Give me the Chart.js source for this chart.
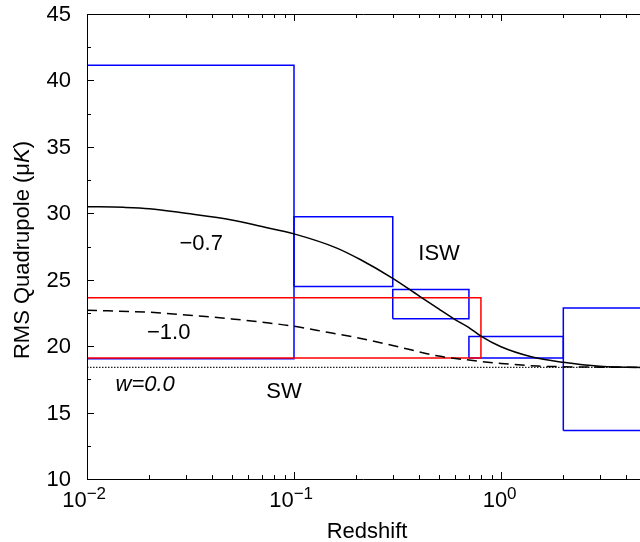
<!DOCTYPE html>
<html>
<head>
<meta charset="utf-8">
<script src="https://cdn.jsdelivr.net/npm/chart.js@4/dist/chart.umd.min.js"></script>
<style>
  html, body { margin: 0; padding: 0; background: #fff; overflow: hidden; }
</style>
</head>
<body>
<canvas id="chart" width="640" height="542"></canvas>
<script>
// axis ranges
const zMin = 0.01;
const zMax = 4.694;
const qMin = 10;
const qMax = 45;
const yTicks = [10, 15, 20, 25, 30, 35, 40, 45];

// blue error boxes (redshift bins)
const boxZlo = [0.01, 0.1, 0.3, 0.7, 2];
const boxZhi = [0.1, 0.3, 0.7, 2, 10];
const boxQlo = [19.06, 24.48, 22.07, 19.1, 13.65];
const boxQhi = [41.14, 29.73, 24.26, 20.72, 22.88];

// red box
const redZ = [0.01, 0.8];
const redQ = [19.1, 23.65];

// w = -0.7 (solid)
const zSolid = [0.01, 0.015, 0.02, 0.03, 0.05, 0.07, 0.1, 0.16, 0.21, 0.3, 0.4, 0.5, 0.6, 0.7, 0.8, 1.0, 1.4, 2.0, 3.0, 4.0, 4.7];
const qSolid = [30.5, 30.45, 30.35, 30.0, 29.5, 29.0, 28.45, 27.4, 26.5, 25.1, 23.8, 22.8, 22.0, 21.4, 20.75, 19.95, 19.2, 18.78, 18.48, 18.42, 18.4];

// w = -1.0 (dashed)
const zDash = [0.01, 0.02, 0.03, 0.05, 0.07, 0.1, 0.15, 0.2, 0.3, 0.5, 0.7, 1.0, 1.5, 2.0, 3.0, 4.7];
const qDash = [22.7, 22.55, 22.35, 22.05, 21.8, 21.5, 21.0, 20.65, 20.05, 19.25, 18.95, 18.7, 18.5, 18.45, 18.42, 18.4];

// w = 0.0 (Sachs-Wolfe only)
const swLevel = 18.4;

// x tick decades and labels
const xMajor = [0.01, 0.1, 1];
const xExp = ['\u22122', '\u22121', '0'];

// text labels placed in data units
const notes = [
  { text: '\u22120.7', z: 0.0356, q: 27.7, italic: false },
  { text: 'ISW', z: 0.502, q: 26.94, italic: false },
  { text: '\u22121.0', z: 0.0248, q: 21.0, italic: false },
  { text: 'w=0.0', z: 0.0191, q: 17.05, italic: true },
  { text: 'SW', z: 0.0894, q: 16.56, italic: false }
];

const FONT = '"Liberation Sans", Arial, Helvetica, sans-serif';
const FS = 22;

function boxPoints(z0, z1, q0, q1) {
  return [{x: z0, y: q0}, {x: z1, y: q0}, {x: z1, y: q1}, {x: z0, y: q1}, {x: z0, y: q0}];
}

const datasets = [];
datasets.push({
  data: zSolid.map((z, i) => ({x: z, y: qSolid[i]})),
  borderColor: '#000', borderWidth: 1.5, cubicInterpolationMode: 'monotone'
});
datasets.push({
  data: zDash.map((z, i) => ({x: z, y: qDash[i]})),
  borderColor: '#000', borderWidth: 1.5, borderDash: [10, 6], cubicInterpolationMode: 'monotone'
});
datasets.push({
  data: [{x: zMin, y: swLevel}, {x: 10, y: swLevel}],
  borderColor: '#222', borderWidth: 1.2, borderDash: [1.5, 1.5]
});
datasets.push({
  data: boxPoints(redZ[0], redZ[1], redQ[0], redQ[1]),
  borderColor: '#ff0000', borderWidth: 1.5
});
for (let i = 0; i < boxZlo.length; i++) {
  datasets.push({
    data: boxPoints(boxZlo[i], boxZhi[i], boxQlo[i], boxQhi[i]),
    borderColor: '#0000ff', borderWidth: 1.5
  });
}
datasets.forEach(d => {
  d.showLine = true;
  d.pointRadius = 0;
  d.fill = false;
});

const framePlugin = {
  id: 'frame',
  afterDraw(chart) {
    const ctx = chart.ctx;
    const a = chart.chartArea;
    const xs = chart.scales.x;
    const ys = chart.scales.y;
    ctx.save();
    ctx.strokeStyle = '#000';
    ctx.lineWidth = 1;
    ctx.beginPath();
    ctx.moveTo(a.left + 0.5, a.top + 0.5);
    ctx.lineTo(a.right, a.top + 0.5);
    ctx.moveTo(a.left + 0.5, a.top);
    ctx.lineTo(a.left + 0.5, a.bottom + 0.5);
    ctx.lineTo(a.right, a.bottom + 0.5);
    // x ticks (bottom and top, inward)
    for (const d of xMajor) {
      for (let m = 1; m <= 9; m++) {
        const v = m * d;
        if (v > zMax) break;
        const px = Math.round(xs.getPixelForValue(v)) + 0.5;
        const len = m === 1 ? 7 : 4;
        ctx.moveTo(px, a.bottom);
        ctx.lineTo(px, a.bottom - len);
        ctx.moveTo(px, a.top);
        ctx.lineTo(px, a.top + len);
      }
    }
    // y ticks (left, inward)
    for (let v = qMin; v <= qMax; v += 2.5) {
      const py = Math.round(ys.getPixelForValue(v)) + 0.5;
      const len = v % 5 === 0 ? 7 : 4;
      ctx.moveTo(a.left, py);
      ctx.lineTo(a.left + len, py);
    }
    ctx.stroke();

    ctx.fillStyle = '#000';

    // y tick labels
    ctx.font = FS + 'px ' + FONT;
    ctx.textAlign = 'right';
    ctx.textBaseline = 'middle';
    yTicks.forEach(v => {
      ctx.fillText(String(v), a.left - 16, ys.getPixelForValue(v) + 1);
    });

    // x tick labels 10^n
    ctx.textBaseline = 'alphabetic';
    ctx.textAlign = 'left';
    xMajor.forEach((v, i) => {
      const px = xs.getPixelForValue(v);
      ctx.font = FS + 'px ' + FONT;
      const w10 = ctx.measureText('10').width;
      const wExpFull = ctx.measureText(xExp[i]).width;
      const left = px - (w10 + wExpFull) / 2;
      ctx.fillText('10', left, 507);
      ctx.font = '17px ' + FONT;
      ctx.fillText(xExp[i], left + w10, 499);
    });

    // x title
    ctx.font = FS + 'px ' + FONT;
    ctx.textAlign = 'center';
    ctx.fillText('Redshift', 367, 538);

    // y title, rotated, with italic K
    ctx.save();
    ctx.translate(29, 250);
    ctx.rotate(-Math.PI / 2);
    const parts = [
      ['RMS Quadrupole (\u03bc', ''],
      ['K', 'italic '],
      [')', '']
    ];
    let total = 0;
    parts.forEach(p => {
      ctx.font = p[1] + FS + 'px ' + FONT;
      total += ctx.measureText(p[0]).width;
    });
    let pos = -total / 2;
    ctx.textAlign = 'left';
    parts.forEach(p => {
      ctx.font = p[1] + FS + 'px ' + FONT;
      ctx.fillText(p[0], pos, 0);
      pos += ctx.measureText(p[0]).width;
    });
    ctx.restore();

    // curve labels
    ctx.textAlign = 'center';
    ctx.textBaseline = 'middle';
    notes.forEach(n => {
      ctx.font = (n.italic ? 'italic ' : '') + FS + 'px ' + FONT;
      ctx.fillText(n.text, xs.getPixelForValue(n.z), ys.getPixelForValue(n.q));
    });
    ctx.restore();
  }
};

const ctx = document.getElementById('chart').getContext('2d');
const myChart = new Chart(ctx, {
  type: 'scatter',
  data: { datasets: datasets },
  options: {
    responsive: false,
    animation: false,
    layout: { padding: { top: 14, right: 0, left: 0, bottom: 0 } },
    plugins: {
      legend: { display: false },
      tooltip: { enabled: false }
    },
    scales: {
      x: {
        type: 'logarithmic',
        min: zMin,
        max: zMax,
        grid: { display: false, drawTicks: false },
        border: { display: false },
        ticks: { display: false },
        afterFit: (scale) => { scale.height = 63; }
      },
      y: {
        type: 'linear',
        min: qMin,
        max: qMax,
        grid: { display: false, drawTicks: false },
        border: { display: false },
        ticks: { display: false },
        afterFit: (scale) => { scale.width = 87; }
      }
    }
  },
  plugins: [framePlugin]
});
</script>
</body>
</html>
